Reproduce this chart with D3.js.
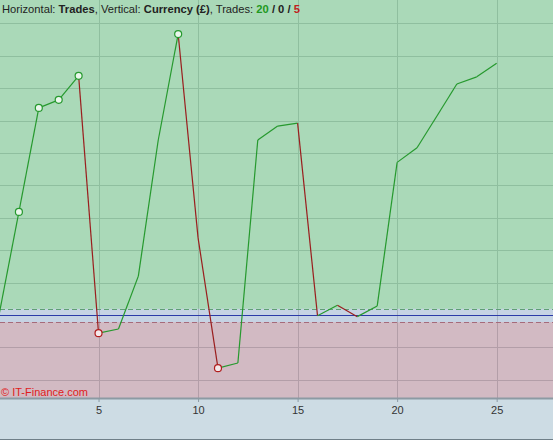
<!DOCTYPE html>
<html><head><meta charset="utf-8">
<script src="https://cdn.jsdelivr.net/npm/d3@7/dist/d3.min.js"></script>
<style>body{margin:0;background:#cddce4;}svg{display:block;font-family:Arial,"Liberation Sans",sans-serif;}</style>
</head><body>
<svg id="c" width="553" height="440"></svg>
<script>
const trades = d3.range(0, 26);
const equity = [0, 318, 639, 664, 738, -56, -43, 120, 540, 867, 238, -164, -148, 540, 583, 592, -2, 30, -5, 28, 471, 516, 614, 713, 735, 777];
const markers = [1, 2, 3, 4, 5, 9, 11];
const xTicks = [5, 10, 15, 20, 25];
const yGrid = [-200, -100, 0, 100, 200, 300, 400, 500, 600, 700, 800, 900];
const counts = {win: 20, even: 0, loss: 5};

const W = 553, H = 440, plotB = 398;
const svg = d3.select("#c");
const x = d3.scaleLinear().domain([0, 27.83]).range([-1, 553]);
const y = d3.scaleLinear().domain([-256, 972]).range([plotB, 0]);

svg.append("rect").attr("width", W).attr("height", H).attr("fill", "#cddce4");
// zones
svg.append("rect").attr("x", 0).attr("y", 0).attr("width", W).attr("height", y(19)).attr("fill", "#aad9b8");
svg.append("rect").attr("x", 0).attr("y", y(19)).attr("width", W).attr("height", y(-22) - y(19)).attr("fill", "#c6d3e4");
svg.append("rect").attr("x", 0).attr("y", y(-22)).attr("width", W).attr("height", plotB - y(-22)).attr("fill", "#d2bac3");

// grid
const g = svg.append("g");
yGrid.filter(v => v !== 0).forEach(v => {
  g.append("line").attr("x1", 0).attr("x2", W).attr("y1", Math.round(y(v)) + 0.5).attr("y2", Math.round(y(v)) + 0.5)
    .attr("stroke", v > 0 ? "#8fbf9f" : "#b39ea8").attr("stroke-width", 1);
});
xTicks.forEach(t => {
  const px = Math.round(x(t)) + 0.5;
  g.append("line").attr("x1", px).attr("x2", px).attr("y1", 0).attr("y2", y(19)).attr("stroke", "#8fbf9f");
  g.append("line").attr("x1", px).attr("x2", px).attr("y1", y(19)).attr("y2", y(-22)).attr("stroke", "#aab4c4");
  g.append("line").attr("x1", px).attr("x2", px).attr("y1", y(-22)).attr("y2", plotB).attr("stroke", "#b39ea8");
});
// dashed lines and zero
svg.append("line").attr("x1", 0).attr("x2", W).attr("y1", Math.round(y(19)) + 0.5).attr("y2", Math.round(y(19)) + 0.5)
  .attr("stroke", "#5f9f75").attr("stroke-dasharray", "5,3");
svg.append("line").attr("x1", 0).attr("x2", W).attr("y1", Math.round(y(-22)) + 0.5).attr("y2", Math.round(y(-22)) + 0.5)
  .attr("stroke", "#a66a7a").attr("stroke-dasharray", "5,3");
svg.append("line").attr("x1", 0).attr("x2", W).attr("y1", Math.round(y(0)) + 0.5).attr("y2", Math.round(y(0)) + 0.5)
  .attr("stroke", "#2b3aa8").attr("stroke-width", 1.2);

// axis
svg.append("line").attr("x1", 0).attr("x2", W).attr("y1", plotB + 0.5).attr("y2", plotB + 0.5).attr("stroke", "#8c9aa3").attr("stroke-width", 2);
const axis = d3.axisBottom(x).tickValues(xTicks).tickSize(4).tickPadding(4).tickFormat(d3.format("d"));
const ax = svg.append("g").attr("transform", `translate(0,${plotB})`).call(axis);
ax.select(".domain").remove();
ax.selectAll(".tick line").attr("stroke", "#8c9aa3");
ax.selectAll(".tick text").attr("fill", "#333").attr("font-size", 11).attr("font-family", "Arial, Liberation Sans, sans-serif");
svg.append("line").attr("x1", 0).attr("x2", W).attr("y1", 439.5).attr("y2", 439.5).attr("stroke", "#6f7f88");

// equity segments
for (let i = 1; i < equity.length; i++) {
  const up = equity[i] >= equity[i - 1];
  svg.append("line").attr("x1", x(trades[i - 1])).attr("y1", y(equity[i - 1]))
    .attr("x2", x(trades[i])).attr("y2", y(equity[i]))
    .attr("stroke", up ? "#26992e" : "#9a1e1e").attr("stroke-width", 1.2);
}
markers.forEach(i => {
  const loss = equity[i] < equity[i - 1];
  svg.append("circle").attr("cx", x(trades[i])).attr("cy", y(equity[i])).attr("r", 3.5)
    .attr("fill", loss ? "#f4e8ea" : "#eaf6ec").attr("stroke", loss ? "#b01c1c" : "#26992e").attr("stroke-width", 1.2);
});

// title
const t = svg.append("text").attr("x", 2).attr("y", 13).attr("font-size", 11.2).attr("fill", "#222");
t.append("tspan").text("Horizontal: ");
t.append("tspan").attr("font-weight", "bold").text("Trades");
t.append("tspan").text(", Vertical: ");
t.append("tspan").attr("font-weight", "bold").text("Currency (£)");
t.append("tspan").text(", Trades: ");
t.append("tspan").attr("font-weight", "bold").attr("fill", "#1f9a1f").text(counts.win);
t.append("tspan").attr("font-weight", "bold").text(" / " + counts.even + " / ");
t.append("tspan").attr("font-weight", "bold").attr("fill", "#c02020").text(counts.loss);

svg.append("text").attr("x", 1).attr("y", 396).attr("font-size", 11).attr("fill", "#e01c1c").text("© IT-Finance.com");
</script>
</body></html>
